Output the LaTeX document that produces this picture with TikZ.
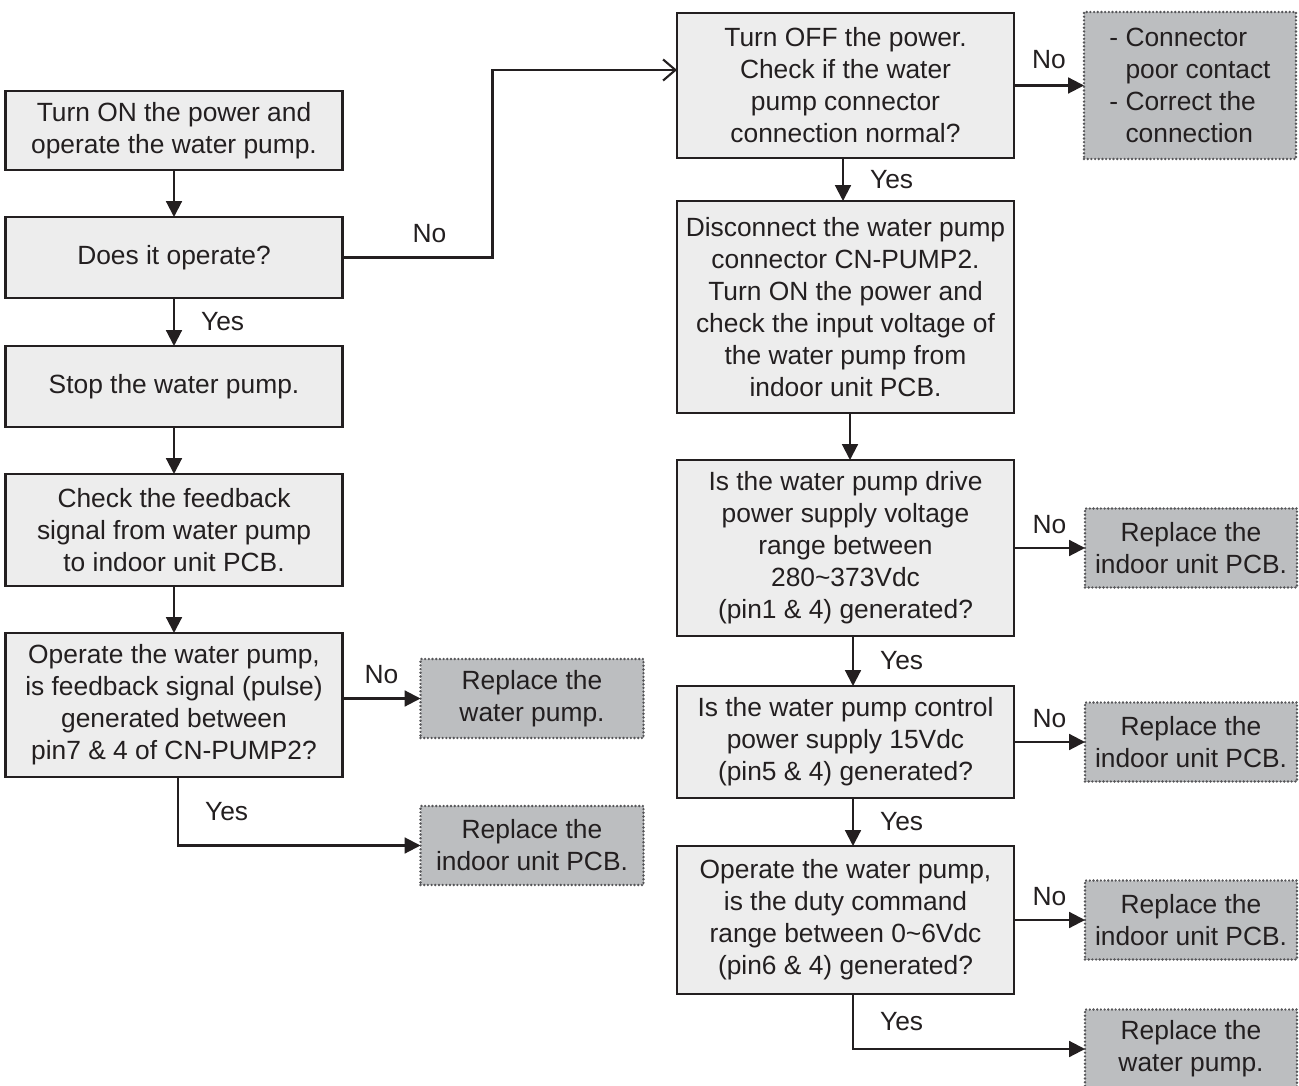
\documentclass[tikz,border=0pt]{standalone}
\usepackage{fontspec}
\setmainfont{Liberation Sans}
\usetikzlibrary{arrows.meta, positioning}
\definecolor{pumpline}{RGB}{35,31,32}
\definecolor{pumpfill}{RGB}{237,237,237}
\definecolor{pumpgray}{RGB}{188,190,192}
\definecolor{pumpdot}{RGB}{85,85,88}

\begin{document}
\begin{tikzpicture}[
  proc/.style={rectangle, draw=pumpline, fill=pumpfill, line width=1.2pt,
               minimum width=6.74cm, minimum height=#1, align=center,
               inner sep=2pt, outer sep=0pt, text=pumpline,
               font=\fontsize{15}{18.2}\selectfont},
  proc/.default=1.6cm,
  fix/.style={rectangle, draw=pumpdot, fill=pumpgray, line width=1.5pt,
              line cap=round, dash pattern=on 0pt off 2.1pt, minimum width=#1,
              minimum height=1.58cm, align=center, inner sep=2pt, outer sep=0pt,
              text=pumpline, font=\fontsize{15}{18.2}\selectfont},
  fix/.default=4.24cm,
  arr/.style={-{Triangle[length=9pt,width=9pt]}, line width=1.2pt, draw=pumpline},
  openarr/.style={-{Straight Barb[length=7pt,width=12pt]}, line width=1.2pt, draw=pumpline},
  lab/.style={inner sep=2pt, text=pumpline, font=\fontsize{15}{18.2}\selectfont}
]
\useasboundingbox (0,0) rectangle (25.98,-21.72);

% left column
\node[proc=1.58cm] (S1) at (3.48,-2.61) {Turn ON the power and\\operate the water pump.};
\node[proc=1.62cm, below=0.94cm of S1] (S2) {Does it operate?};
\node[proc=1.62cm, below=0.96cm of S2] (S3) {Stop the water pump.};
\node[proc=2.24cm, below=0.94cm of S3] (S4) {Check the feedback\\signal from water pump\\to indoor unit PCB.};
\node[proc=2.88cm, below=0.94cm of S4] (S5) {Operate the water pump,\\is feedback signal (pulse)\\generated between\\pin7 \& 4 of CN-PUMP2?};
\node[fix=4.46cm, right=1.56cm of S5, yshift=0.13cm] (R2) {Replace the\\water pump.};
\node[fix=4.46cm, below=1.36cm of R2] (R3) {Replace the\\indoor unit PCB.};

% right column
\node[proc=2.9cm] (C1) at (16.91,-1.71) {Turn OFF the power.\\Check if the water\\pump connector\\connection normal?};
\node[proc=4.24cm, below=0.86cm of C1] (C2) {Disconnect the water pump\\connector CN-PUMP2.\\Turn ON the power and\\check the input voltage of\\the water pump from\\indoor unit PCB.};
\node[proc=3.52cm, below=0.94cm of C2] (C3) {Is the water pump drive\\power supply voltage\\range between\\280\textasciitilde373Vdc\\(pin1 \& 4) generated?};
\node[proc=2.24cm, below=1.0cm of C3] (C4) {Is the water pump control\\power supply 15Vdc\\(pin5 \& 4) generated?};
\node[proc=2.96cm, below=0.96cm of C4] (C5) {Operate the water pump,\\is the duty command\\range between 0\textasciitilde6Vdc\\(pin6 \& 4) generated?};
\node[fix, minimum height=2.94cm, align=left, right=1.42cm of C1, xshift=-0.02cm] (R1) {- Connector\\\phantom{- }poor contact\\- Correct the\\\phantom{- }connection\hspace*{0.3cm}};
\node[fix, right=1.42cm of C3] (R4) {Replace the\\indoor unit PCB.};
\node[fix, right=1.42cm of C4] (R5) {Replace the\\indoor unit PCB.};
\node[fix, right=1.42cm of C5] (R6) {Replace the\\indoor unit PCB.};
\node[fix, below=1.0cm of R6] (R7) {Replace the\\water pump.};

% connectors
\draw[arr] (S1) -- (S2);
\draw[arr] (S2) -- node[lab, right=0.45cm]{Yes} (S3);
\draw[arr] (S3) -- (S4);
\draw[arr] (S4) -- (S5);
\draw[arr] (S5.east |- R2.west) -- node[lab, above=0.2cm]{No} (R2.west);
\draw[arr] ([xshift=0.08cm]S5.south) |- node[lab, pos=0.25, right=0.45cm]{Yes} (R3.west);
\draw[openarr] (S2.east) -- node[lab, above=0.2cm, pos=0.58]{No} ++(3.0,0) |- ([yshift=0.31cm]C1.west);
\draw[arr] (C1.east |- R1.west) -- node[lab, above=0.25cm]{No} (R1.west);
\draw[arr] ([xshift=-0.05cm]C1.south) -- node[lab, right=0.45cm]{Yes} ([xshift=-0.05cm]C2.north);
\draw[arr] ([xshift=0.09cm]C2.south) -- ([xshift=0.09cm]C3.north);
\draw[arr] (C3.east |- R4.west) -- node[lab, above=0.2cm]{No} (R4.west);
\draw[arr] ([xshift=0.15cm]C3.south) -- node[lab, right=0.45cm]{Yes} ([xshift=0.15cm]C4.north);
\draw[arr] (C4.east |- R5.west) -- node[lab, above=0.2cm]{No} (R5.west);
\draw[arr] ([xshift=0.15cm]C4.south) -- node[lab, right=0.45cm]{Yes} ([xshift=0.15cm]C5.north);
\draw[arr] (C5.east |- R6.west) -- node[lab, above=0.2cm]{No} (R6.west);
\draw[arr] ([xshift=0.15cm]C5.south) |- node[lab, pos=0.25, right=0.45cm]{Yes} (R7.west);
\end{tikzpicture}
\end{document}
